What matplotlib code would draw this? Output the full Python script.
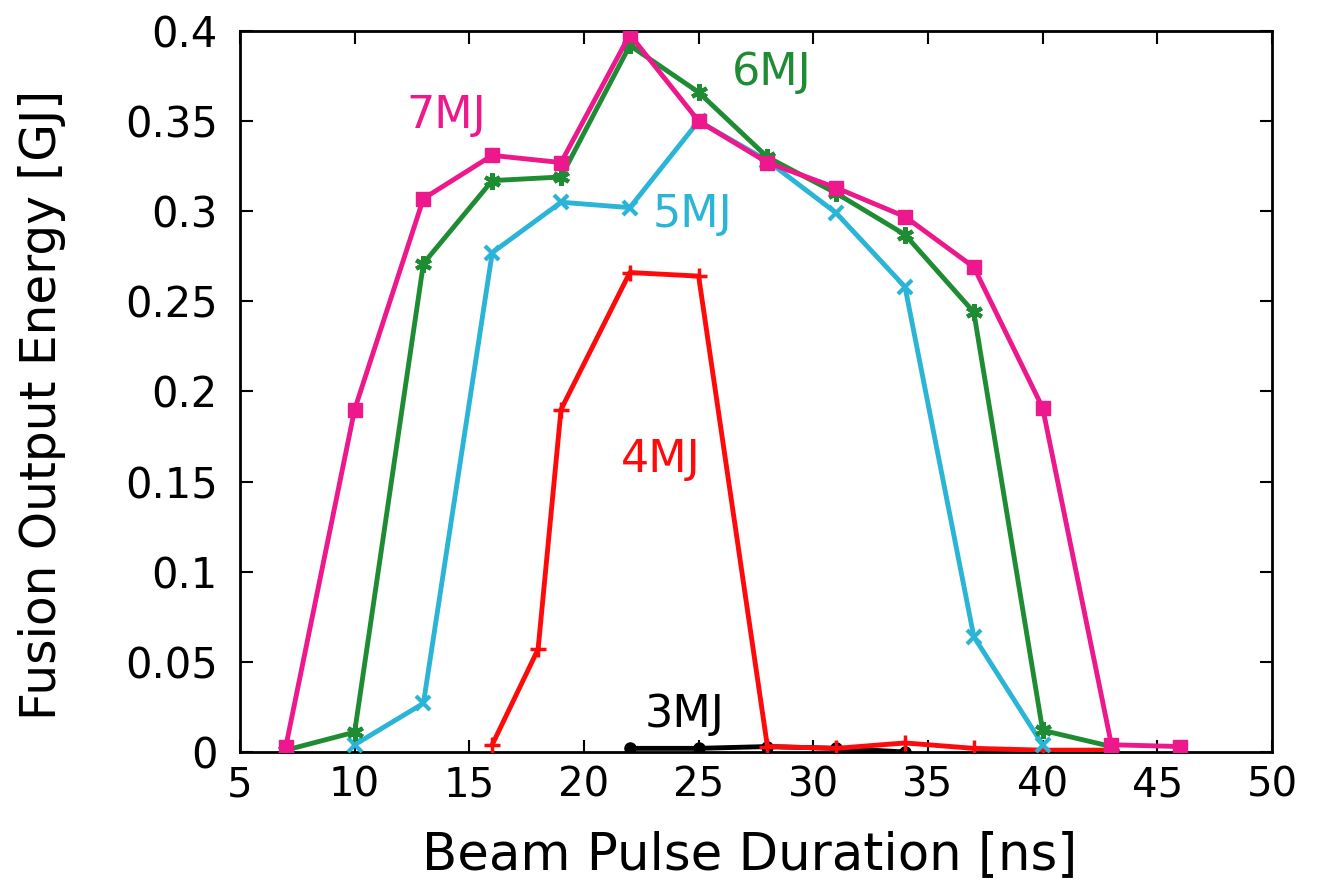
import matplotlib
matplotlib.use("Agg")
import matplotlib.pyplot as plt
from matplotlib.ticker import FuncFormatter

# Data
x7 = [7, 10, 13, 16, 19, 22, 25, 28, 31, 34, 37, 40, 43, 46]
y7 = [0.003, 0.190, 0.307, 0.331, 0.327, 0.398, 0.350, 0.327, 0.313, 0.297, 0.269, 0.191, 0.004, 0.003]

x6 = [7, 10, 13, 16, 19, 22, 25, 28, 31, 34, 37, 40, 43]
y6 = [0.001, 0.011, 0.271, 0.317, 0.319, 0.392, 0.366, 0.330, 0.310, 0.287, 0.244, 0.012, 0.003]

x5 = [10, 13, 16, 19, 22, 25, 28, 31, 34, 37, 40]
y5 = [0.004, 0.027, 0.277, 0.305, 0.302, 0.350, 0.328, 0.299, 0.258, 0.064, 0.004]

x4 = [16, 18, 19, 22, 25, 28, 31, 34, 37, 40, 43]
y4 = [0.004, 0.057, 0.190, 0.266, 0.264, 0.003, 0.002, 0.005, 0.002, 0.001, 0.001]

x3 = [22, 25, 28, 31, 34]
y3 = [0.002, 0.002, 0.003, 0.002, 0.000]

labels = ["7MJ", "6MJ", "5MJ", "4MJ", "3MJ"]
label_x = [14.0, 28.2, 24.75, 23.35, 24.4]
label_y = [0.353, 0.377, 0.298, 0.162, 0.021]

c7 = "#ec188c"
c6 = "#1e8c32"
c5 = "#2ab4d6"
c4 = "#ff0a0a"
c3 = "#000000"
colors = [c7, c6, c5, c4, c3]

fig = plt.figure(figsize=(13.17, 8.83), dpi=100)
ax = fig.add_axes([0.1822, 0.1484, 0.7836, 0.8165])

lw = 3.5
ax.plot(x3, y3, color=c3, lw=lw, marker='o', ms=8, zorder=3)
ax.plot(x4, y4, color=c4, lw=lw, marker='+', ms=11, mew=2.5, zorder=4)
ax.plot(x5, y5, color=c5, lw=lw, marker='x', ms=10, mew=3, zorder=5)
ax.plot(x6, y6, color=c6, lw=lw, marker=(6, 2, 0), ms=12, mew=3, zorder=6)
ax.plot(x7, y7, color=c7, lw=lw, marker='s', ms=10, mfc=c7, mec=c7, zorder=7)

for t, tx, ty, c in zip(labels, label_x, label_y, colors):
    ax.text(tx, ty, t, color=c, fontsize=32, ha='center', va='center', zorder=10)

ax.set_xlim(5, 50)
ax.set_ylim(0, 0.4)
ax.set_xticks(range(5, 51, 5))
ax.set_yticks([i * 0.05 for i in range(9)])
ax.yaxis.set_major_formatter(FuncFormatter(lambda v, p: ("%g" % round(v, 2))))
ax.tick_params(direction='in', length=9, width=1.5, top=True, right=True)
ax.tick_params(axis='y', pad=16, labelsize=30)
ax.tick_params(axis='x', pad=10, labelsize=29)
for s in ax.spines.values():
    s.set_linewidth(2)

ax.set_xlabel("Beam Pulse Duration [ns]", fontsize=37, va='top')
ax.set_ylabel("Fusion Output Energy [GJ]", fontsize=35, va='center')
ax.xaxis.set_label_coords(0.494, -0.108)
ax.yaxis.set_label_coords(-0.192, 0.481)

fig.savefig("out.png", dpi=100)
